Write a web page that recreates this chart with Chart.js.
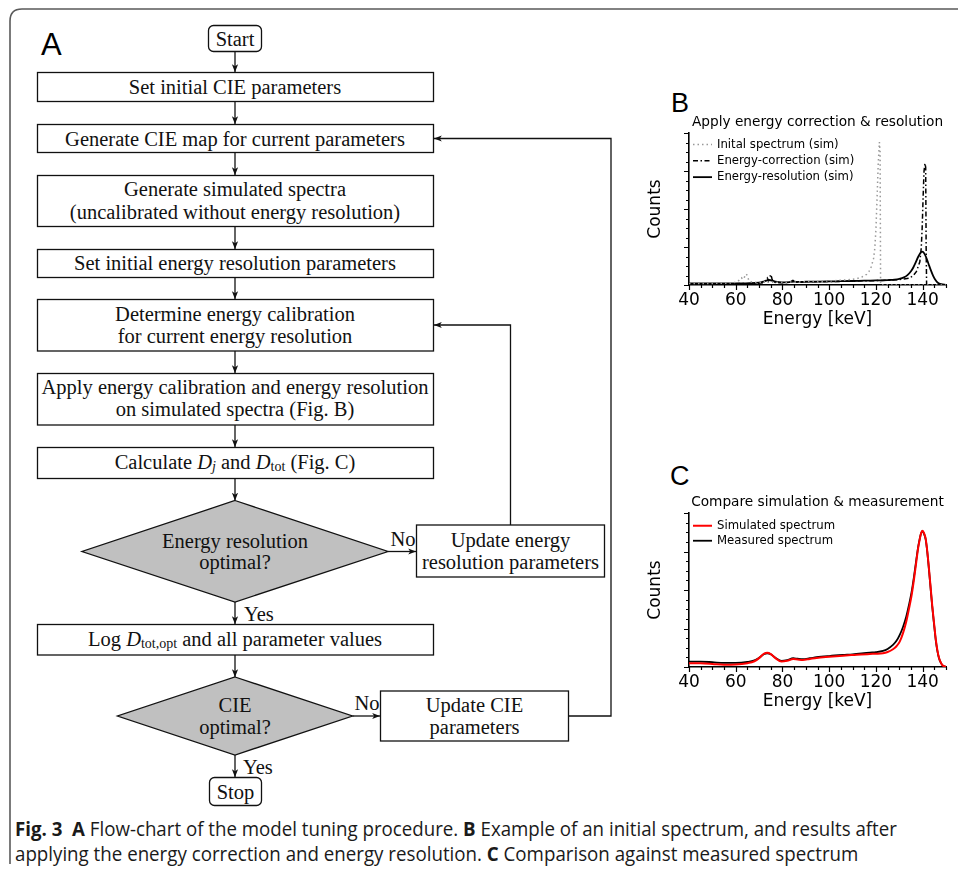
<!DOCTYPE html>
<html>
<head>
<meta charset="utf-8">
<title>Model tuning procedure</title>
<script src="https://cdn.jsdelivr.net/npm/chart.js@4.4.1/dist/chart.umd.min.js"></script>
<style>
  html, body { margin: 0; padding: 0; background: #fff; }
  #page { position: relative; width: 958px; height: 871px; overflow: hidden; background: #fff; }
  #flow { position: absolute; left: 0; top: 0; }
  #flow text { font-family: 'Liberation Serif', serif; font-size: 20.5px; fill: #111; }
  #flow text.panel { font-family: 'Liberation Sans', sans-serif; fill: #000; font-size: 27px; }
  #flow text.panel.big { font-size: 31px; }
  #flow .box { fill: #fff; stroke: #111; stroke-width: 1.3; }
  #flow .dec { fill: #c0c0c0; stroke: #111; stroke-width: 1.3; }
  #flow .link { fill: none; stroke: #111; stroke-width: 1.3; marker-end: url(#arr); }
  #flow .frame { fill: none; stroke: #5a5a5a; stroke-width: 1.6; }
  canvas { position: absolute; }
  .cap-line { position: absolute; left: 15px; height: 25px; line-height: 25px; white-space: nowrap;
              font-family: 'Open Sans', sans-serif; font-size: 20px; color: #1a1a1a; }
  .cap-line span { display: inline-block; transform-origin: 0 50%; }
  .cap-line b { font-weight: 700; }
</style>
</head>
<body>
<div id="page">

<svg id="flow" width="958" height="871">
  <defs>
    <marker id="arr" viewBox="0 0 8 8" refX="7.8" refY="4" markerWidth="8" markerHeight="8"
            markerUnits="userSpaceOnUse" orient="auto">
      <path d="M0,0.9 L8,4 L0,7.1 L2,4 z" fill="#111"/>
    </marker>
  </defs>

  <!-- figure frame -->
  <path class="frame" d="M10,864 L10,21 Q10,9 22,9 L958,9"/>

  <text class="panel big" x="41" y="55">A</text>
  <text class="panel" x="671" y="112">B</text>
  <text class="panel" x="670" y="485">C</text>

  <!-- main column -->
  <rect class="box" x="208.5" y="25.5" width="53" height="26" rx="5"/>
  <text x="235" y="39" text-anchor="middle" dominant-baseline="central">Start</text>
  <line class="link" x1="235" y1="51.5" x2="235" y2="72"/>

  <rect class="box" x="37.5" y="72.5" width="396" height="29"/>
  <text x="235" y="87" text-anchor="middle" dominant-baseline="central">Set initial CIE parameters</text>
  <line class="link" x1="235" y1="101.5" x2="235" y2="124"/>

  <rect class="box" x="37.5" y="124.5" width="396" height="28"/>
  <text x="235" y="138.5" text-anchor="middle" dominant-baseline="central">Generate CIE map for current parameters</text>
  <line class="link" x1="235" y1="152.5" x2="235" y2="175"/>

  <rect class="box" x="37.5" y="175.5" width="396" height="51"/>
  <text x="235" y="189" text-anchor="middle" dominant-baseline="central">Generate simulated spectra</text>
  <text x="235" y="211.5" text-anchor="middle" dominant-baseline="central">(uncalibrated without energy resolution)</text>
  <line class="link" x1="235" y1="226.5" x2="235" y2="249"/>

  <rect class="box" x="37.5" y="249.5" width="396" height="28"/>
  <text x="235" y="262.5" text-anchor="middle" dominant-baseline="central">Set initial energy resolution parameters</text>
  <line class="link" x1="235" y1="277.5" x2="235" y2="299"/>

  <rect class="box" x="37.5" y="299.5" width="396" height="51.5"/>
  <text x="235" y="314" text-anchor="middle" dominant-baseline="central">Determine energy calibration</text>
  <text x="235" y="336" text-anchor="middle" dominant-baseline="central">for current energy resolution</text>
  <line class="link" x1="235" y1="351" x2="235" y2="373"/>

  <rect class="box" x="37.5" y="373.5" width="396" height="51.5"/>
  <text x="235" y="387" text-anchor="middle" dominant-baseline="central">Apply energy calibration and energy resolution</text>
  <text x="235" y="408.5" text-anchor="middle" dominant-baseline="central">on simulated spectra (Fig. B)</text>
  <line class="link" x1="235" y1="425" x2="235" y2="447"/>

  <rect class="box" x="37.5" y="447.5" width="396" height="31"/>
  <text x="235" y="462" text-anchor="middle" dominant-baseline="central">Calculate <tspan font-style="italic">D</tspan><tspan font-style="italic" font-size="14" dy="4">j</tspan><tspan dy="-4"> and </tspan><tspan font-style="italic">D</tspan><tspan font-size="14" dy="4">tot</tspan><tspan dy="-4"> (Fig. C)</tspan></text>
  <line class="link" x1="235" y1="478.5" x2="235" y2="500.5"/>

  <polygon class="dec" points="235,500.5 388,551.5 235,602 82,551.5"/>
  <text x="235" y="540.5" text-anchor="middle" dominant-baseline="central">Energy resolution</text>
  <text x="235" y="561.5" text-anchor="middle" dominant-baseline="central">optimal?</text>

  <!-- inner loop: energy resolution -->
  <line class="link" x1="388" y1="551.5" x2="416" y2="551.5"/>
  <text x="403" y="539" text-anchor="middle" dominant-baseline="central">No</text>
  <rect class="box" x="416.5" y="525" width="188" height="52"/>
  <text x="510.5" y="540" text-anchor="middle" dominant-baseline="central">Update energy</text>
  <text x="510.5" y="562" text-anchor="middle" dominant-baseline="central">resolution parameters</text>
  <polyline class="link" points="510.5,525 510.5,325 434,325"/>

  <line class="link" x1="235" y1="602" x2="235" y2="624"/>
  <text x="244" y="614" dominant-baseline="central">Yes</text>

  <rect class="box" x="37.5" y="624.5" width="396" height="30.5"/>
  <text x="235" y="639" text-anchor="middle" dominant-baseline="central">Log <tspan font-style="italic">D</tspan><tspan font-size="14" dy="4">tot,opt</tspan><tspan dy="-4"> and all parameter values</tspan></text>
  <line class="link" x1="235" y1="655" x2="235" y2="677"/>

  <polygon class="dec" points="235,677 352.5,716 235,755 117.5,716"/>
  <text x="235" y="704.5" text-anchor="middle" dominant-baseline="central">CIE</text>
  <text x="235" y="727" text-anchor="middle" dominant-baseline="central">optimal?</text>

  <!-- outer loop: CIE parameters -->
  <line class="link" x1="352.5" y1="716" x2="380" y2="716"/>
  <text x="367" y="703" text-anchor="middle" dominant-baseline="central">No</text>
  <rect class="box" x="380.5" y="691" width="188" height="50"/>
  <text x="474.5" y="705" text-anchor="middle" dominant-baseline="central">Update CIE</text>
  <text x="474.5" y="727" text-anchor="middle" dominant-baseline="central">parameters</text>
  <polyline class="link" points="568.5,716 611,716 611,138.5 434,138.5"/>

  <line class="link" x1="235" y1="755" x2="235" y2="777"/>
  <text x="243" y="767" dominant-baseline="central">Yes</text>

  <rect class="box" x="209.5" y="777.5" width="52" height="28" rx="5"/>
  <text x="235.5" y="791.5" text-anchor="middle" dominant-baseline="central">Stop</text>
</svg>

<canvas id="chartB" width="318" height="245" style="left:640px;top:100px"></canvas>
<canvas id="chartC" width="318" height="247" style="left:640px;top:480px"></canvas>

<div class="cap-line" style="top:816px"><span data-w="882"><b>Fig. 3</b>&nbsp; <b>A</b> Flow-chart of the model tuning procedure. <b>B</b> Example of an initial spectrum, and results after</span></div>
<div class="cap-line" style="top:841px"><span data-w="843">applying the energy correction and energy resolution. <b>C</b> Comparison against measured spectrum</span></div>

</div>

<script>
// B: simulated spectra at each step (energy in keV, counts in arbitrary units)
const energyInitial = [40, 45, 50, 55, 58, 60, 61, 62, 62.5, 63, 63.5, 64, 64.5, 65, 65.5, 66, 68, 70, 72, 72.8,
  73.5, 75, 80, 85, 90, 95, 100, 105, 110, 112, 114, 116, 117, 118, 119, 119.5, 120, 120.5, 121, 121.5,
  121.8, 122, 123, 130, 140, 150];
const countsInitial = [40, 40, 42, 45, 55, 70, 100, 160, 190, 150, 170, 250, 290, 240, 140, 90, 70, 65, 70, 110,
  75, 70, 70, 80, 85, 95, 105, 125, 150, 170, 210, 280, 350, 480, 700, 950, 1450, 2300, 3200, 3760,
  3500, 20, 0, 0, 0, 0];

const energyCorrected = [40, 50, 60, 65, 70, 72, 73, 73.5, 74, 74.5, 75, 75.5, 76, 78, 80, 83, 84.5, 86, 90, 95,
  100, 105, 110, 115, 120, 125, 130, 132, 134.4, 136, 137.3, 138.8, 139.4, 139.8, 140.2, 140.6, 141, 141.3, 141.5, 141.7,
  145, 150];
const countsCorrected = [30, 30, 35, 40, 45, 60, 130, 180, 110, 190, 280, 170, 80, 60, 60, 70, 120, 70, 80, 85,
  90, 95, 100, 110, 115, 125, 140, 160, 180, 250, 350, 610, 970, 1500, 2300, 3000, 3200, 3100, 1000, 0,
  0, 0];

const energyResolved = [40, 50, 60, 65, 70, 72, 74, 75, 77, 80, 83, 85, 87, 90, 95, 100, 105, 110, 115, 120,
  125, 128, 130, 132, 133.5, 135, 136, 137, 138, 139, 139.7, 140.5, 141.5, 142.5, 143.5, 144.5, 145.5, 146.5, 148, 150];
const countsResolved = [40, 40, 40, 45, 60, 90, 130, 125, 90, 70, 75, 90, 80, 85, 90, 95, 100, 105, 115, 120,
  130, 140, 160, 200, 260, 360, 460, 590, 730, 840, 876, 850, 730, 560, 390, 240, 130, 60, 20, 5];

// C: final simulation against the measurement
const energyCompare = [40, 45, 50, 55, 60, 65, 68, 70, 72, 73.5, 75, 77, 79.6, 82, 84.6, 86.5, 88.7, 91.7, 94.6, 100,
  105.9, 110, 117.4, 120, 123, 125, 127.3, 128.8, 130.2, 131.6, 133, 134.1, 135.2, 136.3, 137.3, 138.1, 138.7, 139.3, 139.9, 140.6,
  141.3, 142, 142.7, 143.4, 144.1, 144.9, 145.6, 146.3, 147, 147.7, 148.4, 149.2, 150];
const countsSimulated = [97, 95, 80, 60, 65, 100, 150, 230, 340, 370, 335, 230, 140, 160, 205, 195, 185, 210, 235, 265,
  295, 312, 340, 345, 357, 390, 462, 540, 660, 880, 1183, 1500, 1835, 2280, 2740, 3100, 3300, 3470, 3540, 3480,
  3330, 3000, 2560, 2080, 1600, 1130, 730, 440, 240, 125, 52, 20, 5];
const countsMeasured = [140, 140, 125, 105, 105, 130, 170, 240, 330, 357, 330, 240, 160, 180, 227, 215, 205, 227, 253, 285,
  313, 330, 373, 385, 418, 470, 574, 680, 835, 1040, 1313, 1600, 1923, 2350, 2793, 3130, 3315, 3470, 3530, 3460,
  3315, 2980, 2532, 2050, 1574, 1100, 705, 420, 227, 120, 52, 20, 5];

const energyTicks = [40, 60, 80, 100, 120, 140];

function toPoints(xs, ys) {
  return xs.map((x, i) => ({ x: x, y: ys[i] }));
}

Chart.defaults.font.family = 'DejaVu Sans';
Chart.defaults.color = '#000';

// matplotlib-like outward ticks, long on majors and short on minors
const axisTicks = {
  id: 'axisTicks',
  afterDraw(chart, args, opts) {
    const { ctx, scales: { x, y } } = chart;
    ctx.save();
    ctx.strokeStyle = '#000';
    ctx.lineWidth = 1.2;
    ctx.beginPath();
    for (let v = x.min; v <= x.max + 1e-6; v += opts.xMinor) {
      const px = Math.round(x.getPixelForValue(v)) + 0.5;
      const len = v % opts.xMajor === 0 ? opts.major : opts.minor;
      ctx.moveTo(px, x.top);
      ctx.lineTo(px, x.top + len);
    }
    for (let v = y.min; v <= y.max + 1e-6; v += opts.yMinor) {
      const py = Math.round(y.getPixelForValue(v)) + 0.5;
      const len = v % opts.yMajor === 0 ? opts.major : opts.minor;
      ctx.moveTo(y.right, py);
      ctx.lineTo(y.right - len, py);
    }
    ctx.stroke();
    ctx.restore();
  }
};

// legend drawn inside the plot, upper left
const insetLegend = {
  id: 'insetLegend',
  afterDraw(chart, args, opts) {
    const { ctx, chartArea } = chart;
    ctx.save();
    ctx.font = opts.fontSize + 'px "DejaVu Sans"';
    ctx.textBaseline = 'middle';
    chart.data.datasets.forEach((ds, i) => {
      const x0 = chartArea.left + opts.left;
      const y0 = chartArea.top + opts.top + i * opts.rowGap;
      ctx.strokeStyle = ds.borderColor;
      ctx.lineWidth = ds.borderWidth;
      ctx.setLineDash(ds.borderDash || []);
      ctx.beginPath();
      ctx.moveTo(x0, y0);
      ctx.lineTo(x0 + opts.lineLen, y0);
      ctx.stroke();
      ctx.setLineDash([]);
      ctx.fillStyle = '#000';
      ctx.fillText(ds.label, x0 + opts.lineLen + opts.textGap, y0);
    });
    ctx.restore();
  }
};

function spectrumOptions(title, legendTop, legendGap) {
  return {
    responsive: false,
    animation: false,
    devicePixelRatio: 1,
    layout: { padding: { left: 0, right: 12, top: 0, bottom: 0 } },
    elements: { point: { radius: 0 } },
    scales: {
      x: {
        type: 'linear',
        min: 40,
        max: 150,
        grid: { display: false, drawTicks: false },
        border: { display: true, color: '#000', width: 1.6 },
        ticks: {
          stepSize: 20,
          includeBounds: false,
          padding: 5,
          autoSkip: false,
          maxRotation: 0,
          font: { size: 17 },
          color: '#000',
          callback: v => energyTicks.includes(v) ? String(v) : ''
        },
        title: { display: true, text: 'Energy [keV]', font: { size: 17 }, color: '#000', padding: { top: 0, bottom: 15 } },
        afterFit(scale) { scale.height = 60; }
      },
      y: {
        min: 0,
        max: 4000,
        grid: { display: false, drawTicks: false },
        border: { display: true, color: '#000', width: 1.6 },
        ticks: { display: false, stepSize: 1000 },
        title: { display: true, text: 'Counts', font: { size: 17 }, color: '#000', padding: { top: 5, bottom: 0 } },
        afterFit(scale) { scale.width = 49; }
      }
    },
    plugins: {
      legend: { display: false },
      tooltip: { enabled: false },
      title: {
        display: true,
        text: title,
        fullSize: false,
        color: '#000',
        font: { size: 13.7, weight: 'normal' },
        padding: { top: 14, bottom: 2.6 }
      },
      axisTicks: { xMinor: 5, xMajor: 20, yMinor: 250, yMajor: 1000, major: 5, minor: 3 },
      insetLegend: { left: 4, top: legendTop, rowGap: legendGap, lineLen: 19, textGap: 5, fontSize: 11.7 }
    }
  };
}

new Chart(document.getElementById('chartB'), {
  type: 'line',
  data: {
    datasets: [
      {
        label: 'Inital spectrum (sim)',
        data: toPoints(energyInitial, countsInitial),
        borderColor: '#999999',
        borderWidth: 1.5,
        borderDash: [1.5, 3],
        tension: 0
      },
      {
        label: 'Energy-correction (sim)',
        data: toPoints(energyCorrected, countsCorrected),
        borderColor: '#000000',
        borderWidth: 1.5,
        borderDash: [5, 2.5, 1.5, 2.5],
        tension: 0
      },
      {
        label: 'Energy-resolution (sim)',
        data: toPoints(energyResolved, countsResolved),
        borderColor: '#000000',
        borderWidth: 1.8,
        cubicInterpolationMode: 'monotone'
      }
    ]
  },
  options: spectrumOptions('Apply energy correction & resolution', 11.5, 16.3),
  plugins: [axisTicks, insetLegend]
});

new Chart(document.getElementById('chartC'), {
  type: 'line',
  data: {
    datasets: [
      {
        label: 'Simulated spectrum',
        data: toPoints(energyCompare, countsSimulated),
        borderColor: '#ff0000',
        borderWidth: 2,
        cubicInterpolationMode: 'monotone'
      },
      {
        label: 'Measured spectrum',
        data: toPoints(energyCompare, countsMeasured),
        borderColor: '#000000',
        borderWidth: 1.8,
        cubicInterpolationMode: 'monotone'
      }
    ]
  },
  options: spectrumOptions('Compare simulation & measurement', 12.7, 15),
  plugins: [axisTicks, insetLegend]
});

// squeeze the caption lines into their column width
function fitCaption() {
  document.querySelectorAll('.cap-line span').forEach(span => {
    const target = parseFloat(span.dataset.w);
    span.style.transform = 'none';
    const w = span.offsetWidth;
    if (w > 0) span.style.transform = 'scaleX(' + (target / w) + ')';
  });
}
fitCaption();
if (document.fonts && document.fonts.ready) document.fonts.ready.then(fitCaption);
</script>
</body>
</html>
